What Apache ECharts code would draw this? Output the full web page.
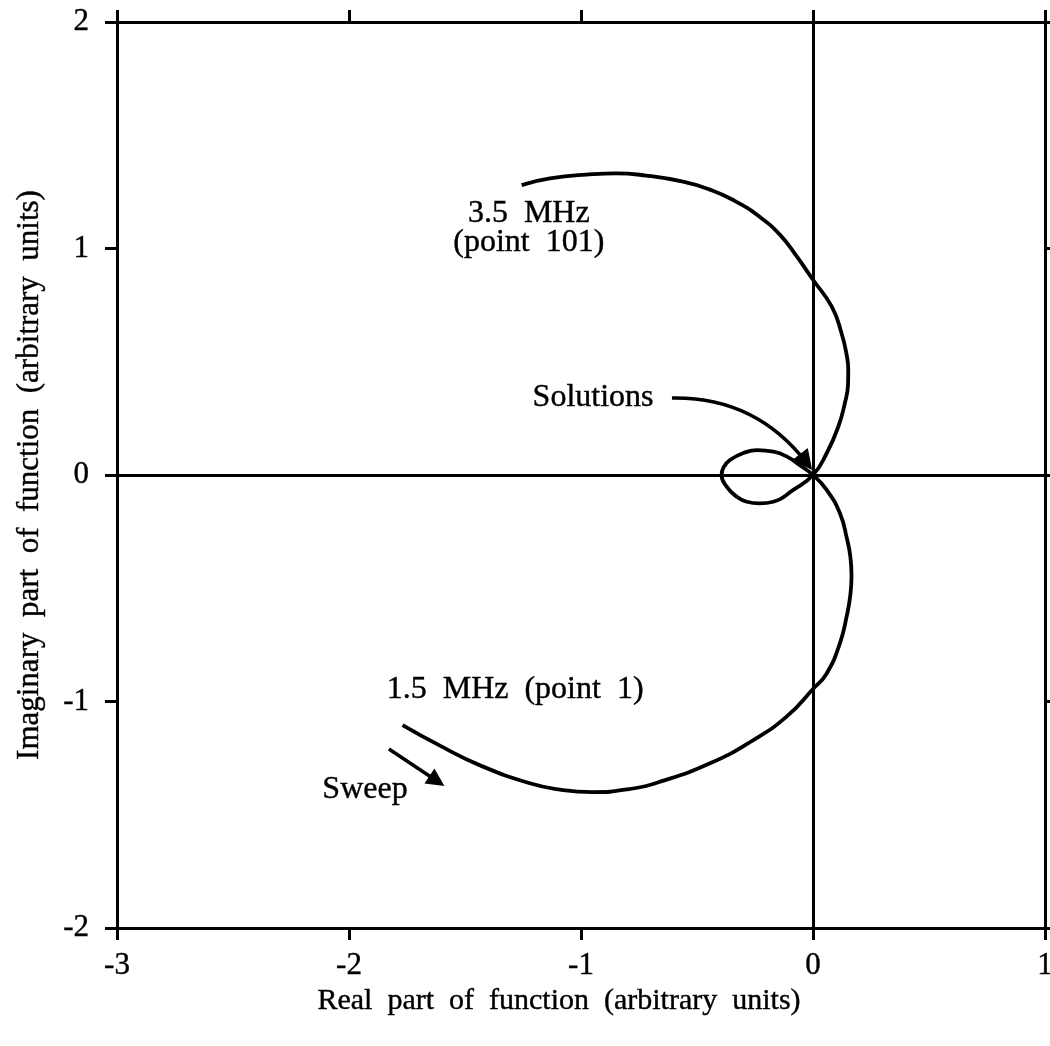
<!DOCTYPE html>
<html><head><meta charset="utf-8">
<script src="https://cdn.jsdelivr.net/npm/echarts@6/dist/echarts.min.js"></script>
<style>html,body{margin:0;padding:0;background:#fff}#c{width:1050px;height:1046px}</style>
</head><body><div id="c"></div>
<script>
// Locus of the function in the complex plane (real, imaginary), from point 1 (1.5 MHz) to point 101 (3.5 MHz)
const curveRe = [-1.769,-1.608,-1.435,-1.220,-1.091,-0.95,-0.80,-0.659,-0.444,-0.257,-0.114,0.0,0.059,0.116,0.146,0.161,0.166,0.161,0.146,0.116,0.059,0.0,
  -0.06,-0.11,-0.17,-0.24,-0.30,-0.358,-0.385,-0.394,-0.373,-0.33,-0.286,-0.23,-0.171,-0.085,0.0,
  0.059,0.109,0.138,0.151,0.152,0.145,0.123,0.081,0.0,-0.07,-0.142,-0.23,-0.344,-0.45,-0.56,-0.72,-0.85,-0.95,-1.134,-1.256];
const curveIm = [-1.104,-1.195,-1.282,-1.361,-1.389,-1.400,-1.388,-1.354,-1.273,-1.170,-1.067,-0.945,-0.876,-0.743,-0.62,-0.53,-0.445,-0.36,-0.28,-0.169,-0.066,0.0,
  0.045,0.080,0.103,0.110,0.097,0.066,0.035,0.0,-0.050,-0.095,-0.118,-0.125,-0.118,-0.066,0.0,
  0.096,0.213,0.32,0.40,0.465,0.53,0.626,0.743,0.862,0.965,1.06,1.14,1.214,1.262,1.295,1.322,1.332,1.328,1.310,1.280];
const xTicks = [-3,-2,-1,0,1];
const yTicks = [-2,-1,0,1,2];
const annoText = ['3.5  MHz\n(point  101)','Solutions','1.5  MHz  (point  1)','Sweep'];
const annoRe = [-1.225,-0.948,-1.284,-1.931];
const annoIm = [1.088,0.34,-0.949,-1.391];
// arrows: [startRe, startIm, endRe, endIm]
const sweepArrow = [-1.828,-1.210,-1.621,-1.351];
const solArrow = [-0.608,0.340,-0.030,0.057];

const font = '"Liberation Serif", "Times New Roman", serif';
const curveData = curveRe.map((v,i)=>[v,curveIm[i]]);
const annoData = annoText.map((t,i)=>({value:[annoRe[i],annoIm[i]], name:t}));
const txt = {fontFamily:font,color:'#000',textBorderColor:'#000',textBorderWidth:0.4};

const chart = echarts.init(document.getElementById('c'));
chart.setOption({
  backgroundColor:'#fff',
  animation:false,
  grid:{left:117,right:5,top:22,bottom:118,outerBoundsMode:'none',containLabel:false},
  xAxis:[{
    type:'value',min:xTicks[0],max:xTicks[xTicks.length-1],interval:1,position:'bottom',
    name:'Real  part  of  function  (arbitrary  units)',nameLocation:'middle',nameGap:57,
    nameTextStyle:Object.assign({fontSize:30,padding:[0,44,0,0]},txt),
    axisLine:{onZero:false,lineStyle:{color:'#000',width:3}},
    axisTick:{inside:false,length:12,lineStyle:{color:'#000',width:3}},
    axisLabel:Object.assign({fontSize:31,margin:22,hideOverlap:false,showMinLabel:true,showMaxLabel:true},txt),
    splitLine:{show:false}
  },{
    type:'value',min:xTicks[0],max:xTicks[xTicks.length-1],interval:1,position:'top',
    axisLine:{onZero:false,lineStyle:{color:'#000',width:3}},
    axisTick:{inside:false,length:12,lineStyle:{color:'#000',width:3}},
    axisLabel:{show:false},splitLine:{show:false}
  }],
  yAxis:[{
    type:'value',min:yTicks[0],max:yTicks[yTicks.length-1],interval:1,position:'left',
    name:'Imaginary  part  of  function  (arbitrary  units)',nameLocation:'middle',nameGap:72,
    nameTextStyle:Object.assign({fontSize:31},txt),
    axisLine:{onZero:false,lineStyle:{color:'#000',width:3}},
    axisTick:{inside:false,length:12,lineStyle:{color:'#000',width:3}},
    axisLabel:Object.assign({fontSize:31,margin:28,showMinLabel:true,showMaxLabel:true},txt),
    splitLine:{show:false}
  },{
    type:'value',min:yTicks[0],max:yTicks[yTicks.length-1],interval:1,position:'right',
    axisLine:{onZero:false,lineStyle:{color:'#000',width:3}},
    axisTick:{inside:false,length:12,lineStyle:{color:'#000',width:3}},
    axisLabel:{show:false},splitLine:{show:false}
  }],
  series:[
    {
      type:'line',data:[],silent:true,
      markLine:{silent:true,symbol:'none',label:{show:false},
        lineStyle:{color:'#000',width:3,type:'solid'},
        data:[{xAxis:0},{yAxis:0}]}
    },
    {
      type:'line',data:curveData,smooth:0.5,showSymbol:false,symbol:'none',
      lineStyle:{color:'#000',width:3.8},silent:true
    },
    {
      type:'lines',coordinateSystem:'cartesian2d',silent:true,
      symbol:['none','triangle'],symbolSize:18,
      lineStyle:{color:'#000',width:3.5,opacity:1,curveness:0},
      data:[{coords:[[sweepArrow[0],sweepArrow[1]],[sweepArrow[2],sweepArrow[3]]]}]
    },
    {
      type:'lines',coordinateSystem:'cartesian2d',silent:true,
      symbol:['none','triangle'],symbolSize:20,
      lineStyle:{color:'#000',width:3.5,opacity:1,curveness:0.25},
      data:[{coords:[[solArrow[0],solArrow[1]],[solArrow[2],solArrow[3]]]}]
    },
    {
      type:'scatter',data:annoData,symbolSize:0,silent:true,itemStyle:{opacity:1},
      label:Object.assign({show:true,position:'inside',formatter:p=>p.name,opacity:1,
        fontSize:32,lineHeight:29,align:'center'},txt)
    }
  ]
});
</script></body></html>
